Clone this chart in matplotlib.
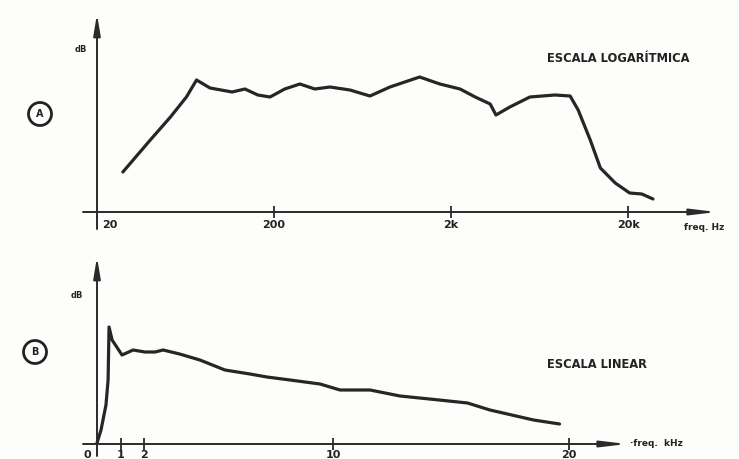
import numpy as np
import matplotlib.pyplot as plt
from matplotlib.patches import Ellipse

# ==============================================================================
# data
# ==============================================================================

# A - logarithmic scale, frequency in Hz, level in arbitrary dB units
freq_log = [28, 40, 52, 64, 73, 87, 116, 137, 162, 190, 230, 280, 340, 414,
            537, 697, 904, 1330, 1730, 2250, 2740, 3330, 3590, 4300, 5580,
            7720, 9420, 10460, 12240, 13960, 16940, 20440, 23940, 27680]
db_log = [8.0, 14.4, 19.0, 23.0, 26.4, 24.8, 24.0, 24.6, 23.4, 23.0, 24.6,
          25.6, 24.6, 25.0, 24.4, 23.2, 25.0, 27.0, 25.6, 24.6, 23.0, 21.6,
          19.4, 21.0, 23.0, 23.4, 23.2, 20.4, 14.4, 8.8, 5.8, 3.8, 3.6, 2.6]
ticks_log = [20, 200, 2000, 20000]
ticklabels_log = ['20', '200', '2k', '20k']

# B - linear scale, frequency in kHz
freq_lin = [0.0, 0.17, 0.38, 0.47, 0.51, 0.64, 1.06, 1.53, 2.03, 2.46, 2.8,
            3.5, 4.36, 5.42, 6.48, 7.2, 8.18, 9.45, 10.3, 11.57, 12.84, 14.5,
            15.7, 16.65, 18.5, 19.6]
db_lin = [0.2, 2.8, 7.8, 12.8, 23.4, 20.8, 17.8, 18.8, 18.4, 18.4, 18.8, 18.0,
          16.8, 14.8, 14.0, 13.4, 12.8, 12.0, 10.8, 10.8, 9.6, 8.8, 8.2, 6.8,
          4.8, 4.0]
ticks_lin = [1, 2, 10, 20]
ticklabels_lin = ['1', '2', '10', '20']

# ==============================================================================
# styles
# ==============================================================================

W, H = 739, 459
curve_style = {'color': '#262626', 'lw': 2.3, 'solid_capstyle': 'round',
               'solid_joinstyle': 'round'}
xaxis_arrow = {'arrowstyle': '-|>,head_length=1.1,head_width=0.13',
               'color': '#2a2a2a', 'lw': 1.4, 'mutation_scale': 14,
               'shrinkA': 0, 'shrinkB': 0}
yaxis_arrow = {'arrowstyle': '-|>,head_length=0.9,head_width=0.15',
               'color': '#2a2a2a', 'lw': 1.4, 'mutation_scale': 14,
               'shrinkA': 0, 'shrinkB': 0}
font_lbl = {'family': 'DejaVu Sans', 'weight': 'bold', 'color': '#222222'}


def px_axes(fig, x0, x1, y0, y1):
    # axes placed by pixel box (y measured from top)
    return fig.add_axes([x0 / W, 1 - y1 / H, (x1 - x0) / W, (y1 - y0) / H])


def clean(ax):
    for s in ax.spines.values():
        s.set_visible(False)
    ax.set_xticks([])
    ax.set_yticks([])
    ax.minorticks_off()
    ax.patch.set_alpha(0)


fig = plt.figure(figsize=(W / 100, H / 100), dpi=100)
fig.patch.set_facecolor('#fdfdfb')

# ==============================================================================
# A - logarithmic
# ==============================================================================
dec = 177.0  # pixels per decade
ax1 = px_axes(fig, 80, 720, 10, 232)
ax1.set_xscale('log')
ax1.set_xlim(20 * 10 ** (-17 / dec), 20 * 10 ** (623 / dec))
ax1.set_ylim(-4, 40.4)
clean(ax1)

ax1.plot(freq_log, db_log, **curve_style)

x_left = 20 * 10 ** (-14 / dec)
x_right = 20 * 10 ** (620 / dec)
ax1.annotate('', xy=(x_right, 0), xytext=(x_left, 0), arrowprops=xaxis_arrow)
ax1.annotate('', xy=(20, 39.6), xytext=(20, -3.4), arrowprops=yaxis_arrow)
ax1.plot(ticks_log[1:], [0] * 3, ls='none', marker='|', ms=9, mew=1.3,
         color='#2a2a2a')
for t, lbl in zip(ticks_log, ticklabels_log):
    dx = 10 ** (13 / dec) if t == 20 else 1.0
    ax1.text(t * dx, -1.6, lbl, ha='center', va='top', fontsize=8, **font_lbl)
ax1.text(20 * 10 ** (587 / dec), -2.2, 'freq. Hz', ha='left', va='top',
         fontsize=6.5, **font_lbl)
ax1.text(20 * 10 ** (-10 / dec), 32.5, 'dB', ha='right', va='center',
         fontsize=6, **font_lbl)
ax1.text(20 * 10 ** (450 / dec), 30.6, 'ESCALA LOGARÍTMICA', ha='left',
         va='center', fontsize=8.3, **font_lbl)

# ==============================================================================
# B - linear
# ==============================================================================
kpx = 23.6  # pixels per kHz
ax2 = px_axes(fig, 80, 720, 250, 459)
ax2.set_xlim(-17 / kpx, 623 / kpx)
ax2.set_ylim(-3, 38.8)
clean(ax2)

ax2.plot(freq_lin, db_lin, **curve_style)

ax2.annotate('', xy=(530 / kpx, 0), xytext=(-14 / kpx, 0), arrowprops=xaxis_arrow)
ax2.annotate('', xy=(0, 37.4), xytext=(0, -2.4), arrowprops=yaxis_arrow)
ax2.plot(ticks_lin, [0] * 4, ls='none', marker='|', ms=9, mew=1.3,
         color='#2a2a2a')
ax2.text(-10 / kpx, -1.2, '0', ha='center', va='top', fontsize=8, **font_lbl)
for t, lbl in zip(ticks_lin, ticklabels_lin):
    ax2.text(t, -1.2, lbl, ha='center', va='top', fontsize=8, **font_lbl)
ax2.text(533 / kpx, 0.1, '·freq.  kHz', ha='left', va='center',
         fontsize=6.5, **font_lbl)
ax2.text(-14 / kpx, 29.8, 'dB', ha='right', va='center', fontsize=6,
         **font_lbl)
ax2.text(450 / kpx, 15.8, 'ESCALA LINEAR', ha='left', va='center',
         fontsize=8.3, **font_lbl)

# circled letters
r = 11.5
for cx, cy, letter in [(40, 114, 'A'), (35, 352, 'B')]:
    circ = Ellipse((cx / W, 1 - cy / H), 2 * r / W, 2 * r / H,
                   transform=fig.transFigure, fill=False, lw=2.0, ec='#222222')
    fig.patches.append(circ)
    fig.text(cx / W, 1 - cy / H, letter, ha='center', va='center', fontsize=7,
             **font_lbl)

fig.savefig('out.png', dpi=100, facecolor=fig.get_facecolor())
